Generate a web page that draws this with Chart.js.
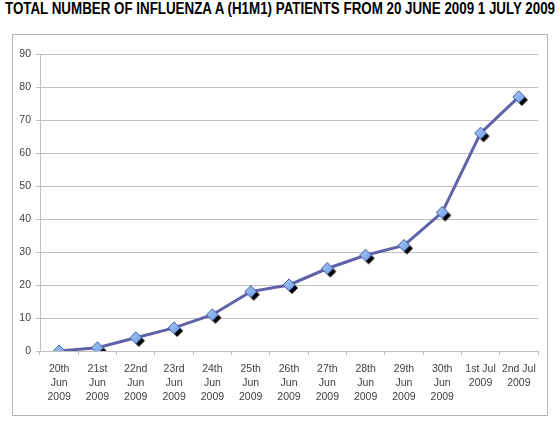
<!DOCTYPE html>
<html>
<head>
<meta charset="utf-8">
<script src="https://cdn.jsdelivr.net/npm/chart.js@4.4.1/dist/chart.umd.min.js"></script>
<style>
  html, body { margin: 0; padding: 0; background: #fff; }
  #title {
    position: absolute; left: 5px; top: 0px;
    font: bold 16px 'Liberation Sans Narrow', 'Liberation Sans', Arial, sans-serif;
    color: #000; white-space: nowrap; transform-origin: 0 0;
  }
  #box {
    position: absolute; left: 12px; top: 34px; width: 534px; height: 380px;
    border: 1px solid #b4b4b4;
  }
  #box canvas { display: block; }
</style>
</head>
<body>
<div id="title">TOTAL NUMBER OF INFLUENZA A (H1M1) PATIENTS FROM 20 JUNE 2009 1 JULY 2009</div>
<div id="box"><canvas id="chart" width="534" height="380"></canvas></div>
<script>
'use strict';

// ── Data ──────────────────────────────────────────────────────────────────
const DAYS = [
  ['20th', 'Jun', '2009'], ['21st', 'Jun', '2009'], ['22nd', 'Jun', '2009'],
  ['23rd', 'Jun', '2009'], ['24th', 'Jun', '2009'], ['25th', 'Jun', '2009'],
  ['26th', 'Jun', '2009'], ['27th', 'Jun', '2009'], ['28th', 'Jun', '2009'],
  ['29th', 'Jun', '2009'], ['30th', 'Jun', '2009'], ['1st Jul', '2009'],
  ['2nd Jul', '2009'],
];
const PATIENTS = [0, 1, 4, 7, 11, 18, 20, 25, 29, 32, 42, 66, 77];
const Y_MIN = 0, Y_MAX = 90, Y_STEP = 10;

// ── Colours ───────────────────────────────────────────────────────────────
const COL_LINE   = '#6062a8';
const COL_MARKER = '#6f9ee8';
const COL_EDGE   = '#3a5fa8';
const COL_GRID   = '#c0c0c0';
const COL_TEXT   = '#404040';
const FONT       = "'Liberation Sans', Arial, sans-serif";

// fit the title to the width it has in the picture
const title = document.getElementById('title');
const tw = title.getBoundingClientRect().width;
title.style.transform = 'scaleX(' + (550 / tw) + ')';

// diamond marker with a dark drop shadow, drawn once and reused as pointStyle
function diamondMarker() {
  const c = document.createElement('canvas');
  c.width = 22; c.height = 22;
  const g = c.getContext('2d');
  const diamond = (cx, cy, r) => {
    g.beginPath();
    g.moveTo(cx, cy - r); g.lineTo(cx + r, cy); g.lineTo(cx, cy + r); g.lineTo(cx - r, cy);
    g.closePath();
  };
  diamond(14, 14, 6);
  g.fillStyle = '#000'; g.fill();
  diamond(11, 11, 6);
  const grad = g.createLinearGradient(5, 5, 17, 17);
  grad.addColorStop(0, '#a9c6f2');
  grad.addColorStop(1, COL_MARKER);
  g.fillStyle = grad; g.fill();
  g.lineWidth = 1; g.strokeStyle = COL_EDGE; g.stroke();
  return c;
}

new Chart(document.getElementById('chart'), {
  type: 'line',
  data: {
    labels: DAYS,
    datasets: [{
      data: PATIENTS,
      borderColor: COL_LINE,
      borderWidth: 3,
      pointStyle: diamondMarker(),
      pointRadius: 6,
      tension: 0,
    }],
  },
  options: {
    responsive: false,
    animation: false,
    layout: { padding: { top: 19, right: 7, left: 0, bottom: 0 } },
    plugins: { legend: { display: false }, tooltip: { enabled: false } },
    scales: {
      x: {
        offset: true,
        grid: { offset: true, drawOnChartArea: false, drawTicks: true, tickLength: 4, color: COL_GRID },
        border: { color: COL_GRID },
        ticks: {
          autoSkip: false, maxRotation: 0, padding: 7, color: COL_TEXT,
          font: { family: FONT, size: 10.5, lineHeight: 1.35 },
        },
        afterFit: s => { s.height = 64; },
      },
      y: {
        min: Y_MIN, max: Y_MAX,
        grid: { color: COL_GRID, tickLength: 4 },
        border: { color: COL_GRID },
        ticks: {
          stepSize: Y_STEP, padding: 5, color: COL_TEXT,
          font: { family: FONT, size: 10.5 },
        },
        afterFit: s => { s.width = 27; },
      },
    },
  },
});
</script>
</body>
</html>
